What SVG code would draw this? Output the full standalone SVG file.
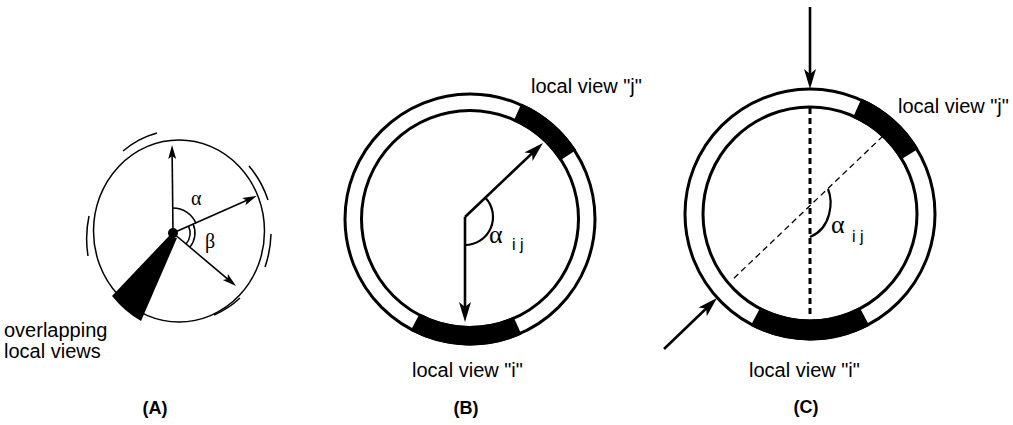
<svg xmlns="http://www.w3.org/2000/svg" width="1013" height="425" viewBox="0 0 1013 425">
<style>
.thin{fill:none;stroke:#000;stroke-width:1.5}
.ring{fill:none;stroke:#000;stroke-width:3}
.band{fill:#000;stroke:none}
.arrA{fill:none;stroke:#000;stroke-width:1.6}
.arrB{fill:none;stroke:#000;stroke-width:2.6}
.lbl{font-family:"Liberation Sans",Arial,sans-serif;font-size:20px;fill:#000}
.cap{font-family:"Liberation Sans",Arial,sans-serif;font-size:18px;font-weight:bold;fill:#000;text-anchor:middle}
.greek{font-family:"Liberation Serif","DejaVu Serif",serif;fill:#000}
.sub{font-family:"Liberation Sans",Arial,sans-serif;font-size:16px;fill:#000}
</style>
<defs>
<marker id="headS" markerUnits="userSpaceOnUse" markerWidth="16" markerHeight="10" refX="9" refY="4" orient="auto">
<path d="M0,0 L14,4 L0,8 L3,4 Z" fill="#000"/>
</marker>
<marker id="headL" markerUnits="userSpaceOnUse" markerWidth="22" markerHeight="14" refX="14" refY="6" orient="auto">
<path d="M0,0 L20,6 L0,12 L5,6 Z" fill="#000"/>
</marker>
</defs>

<g id="panelA">
<ellipse class="thin" cx="179" cy="231" rx="85.5" ry="91"/>
<path class="thin" d="M123,151 A91,100 0 0 1 157,133"/>
<path class="thin" d="M249,166 A91,100 0 0 1 268,200"/>
<path class="thin" d="M271,234 A91,100 0 0 1 265,267"/>
<path class="thin" d="M240,298 A91,100 0 0 1 214,315"/>
<path class="thin" d="M88,256 A91,100 0 0 1 89,216"/>
<path d="M169,236 L177,238 L141,321 Q125,312 112,296 Z" fill="#000"/>
<circle cx="173" cy="233" r="5" fill="#000"/>
<path class="thin" d="M173,208 A25,25 0 0 1 195.87,222.91"/>
<path class="thin" d="M188.55,226.14 A17,17 0 0 1 186.02,243.93"/>
<path class="thin" d="M193.13,224.12 A22,22 0 0 1 189.85,247.14"/>
<text class="greek" x="191" y="205" font-size="20">α</text>
<text class="greek" x="205" y="248" font-size="20">β</text>
<text class="lbl" x="4" y="337">overlapping</text>
<text class="lbl" x="4" y="358">local views</text>
<text class="cap" x="155" y="414">(A)</text>
</g>

<g id="panelB">
<circle class="ring" cx="470" cy="219" r="125"/>
<circle class="ring" cx="470" cy="219" r="108.5"/>
<path class="band" d="M521.45,103.44 A126.5,126.5 0 0 1 576.1,150.11 L559.74,160.73 A107,107 0 0 0 513.52,121.26 Z"/>
<path class="band" d="M521.45,334.56 A126.5,126.5 0 0 1 410.61,330.69 L419.76,313.47 A107,107 0 0 0 513.52,316.74 Z"/>
<path fill="none" stroke="#000" stroke-width="2.2" d="M485.4,197.8 A28,28 0 0 1 465,245"/>
<text class="greek" x="489" y="243" font-size="26">α</text>
<text class="sub" x="512" y="250">i j</text>
<text class="lbl" x="531" y="93">local view "j"</text>
<text class="lbl" x="412" y="377">local view "i"</text>
<text class="cap" x="466" y="414">(B)</text>
</g>

<g id="panelC">
<circle class="ring" cx="810" cy="214" r="125"/>
<circle class="ring" cx="810" cy="214" r="107"/>
<path class="band" d="M861.45,98.44 A126.5,126.5 0 0 1 918.44,148.85 L900.43,159.67 A105.5,105.5 0 0 0 852.91,117.63 Z"/>
<path class="band" d="M869.39,325.69 A126.5,126.5 0 0 1 750.61,325.69 L760.47,307.15 A105.5,105.5 0 0 0 859.53,307.15 Z"/>
<line x1="810" y1="108" x2="810" y2="318" stroke="#000" stroke-width="3" stroke-dasharray="6 4"/>
<line x1="883" y1="136" x2="731" y2="281" stroke="#000" stroke-width="1.3" stroke-dasharray="6 4"/>
<path fill="none" stroke="#000" stroke-width="2.2" d="M828,189 C833,201 832,228 810,237"/>
<text class="greek" x="831" y="233" font-size="26">α</text>
<text class="sub" x="852" y="242">i j</text>
<text class="lbl" x="898" y="113">local view "j"</text>
<text class="lbl" x="749" y="377">local view "i"</text>
<text class="cap" x="806" y="413">(C)</text>
</g>

<g id="connectors">
<line class="arrA" x1="173" y1="233" x2="172.1" y2="150" marker-end="url(#headS)"/>
<line class="arrA" x1="173" y1="233" x2="252.1" y2="198" marker-end="url(#headS)"/>
<line class="arrA" x1="173" y1="233" x2="232.2" y2="282.8" marker-end="url(#headS)"/>
<line class="arrB" x1="465" y1="217" x2="538.6" y2="147.1" marker-end="url(#headL)"/>
<line class="arrB" x1="465" y1="217" x2="465" y2="316" marker-end="url(#headL)"/>
<line class="arrB" x1="810" y1="7" x2="810" y2="83" marker-end="url(#headL)"/>
<line class="arrB" x1="664" y1="349" x2="712.7" y2="302.2" marker-end="url(#headL)"/>
</g>
</svg>
